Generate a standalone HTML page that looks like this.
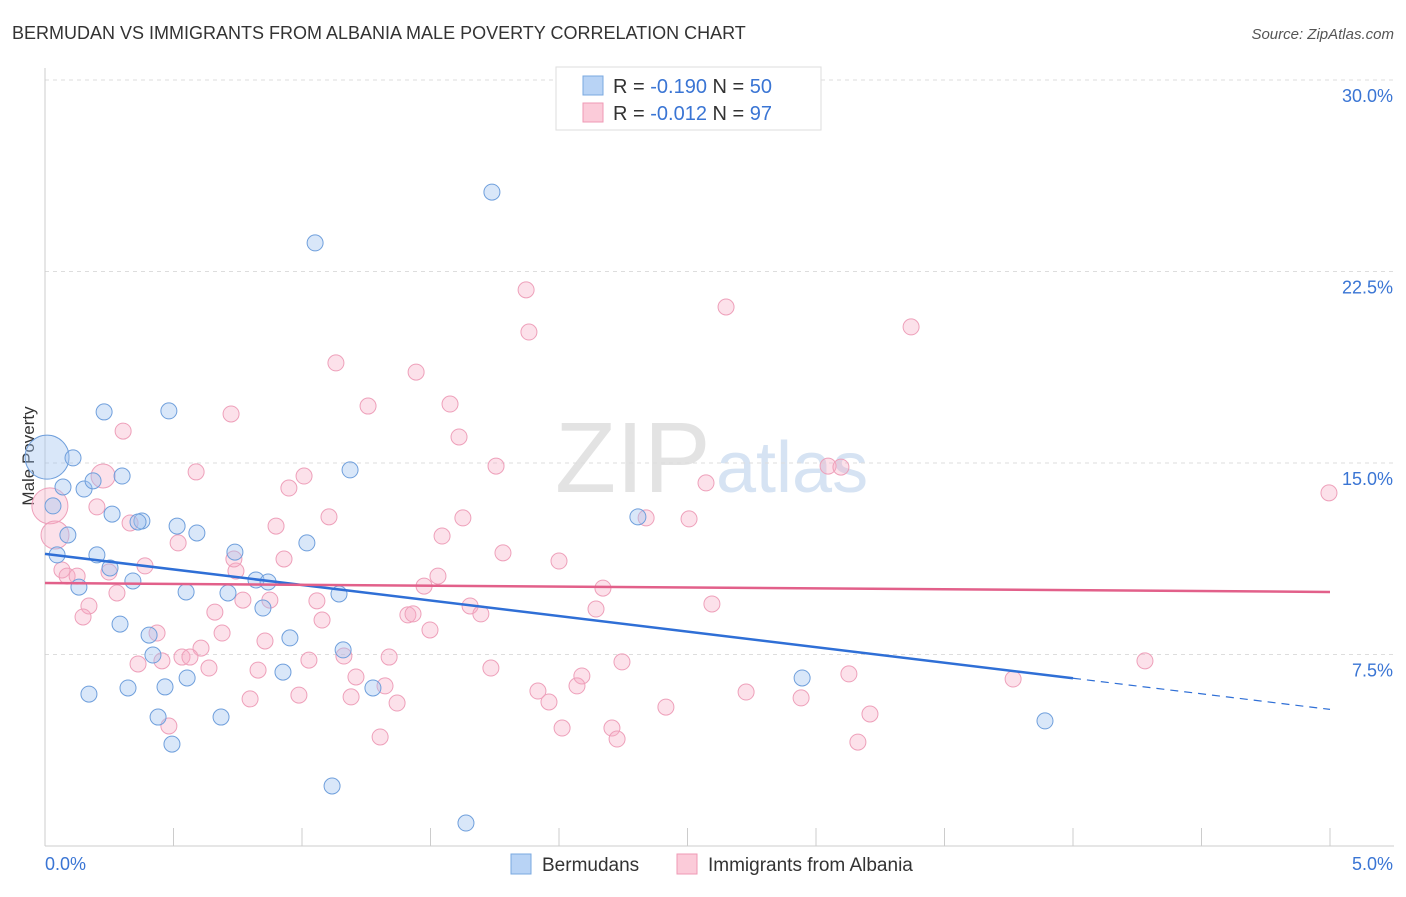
<!DOCTYPE html>
<html><head><meta charset="utf-8"><style>
body{margin:0;background:#fff;font-family:"Liberation Sans",sans-serif;}
svg text{font-family:"Liberation Sans",sans-serif;}
</style></head><body>
<svg id="chart" width="1406" height="892">
<text x="12" y="39" font-size="18" fill="#333">BERMUDAN VS IMMIGRANTS FROM ALBANIA MALE POVERTY CORRELATION CHART</text>
<text x="1394" y="39" font-size="15" fill="#555" font-style="italic" text-anchor="end">Source: ZipAtlas.com</text>
<text x="555" y="492" font-size="100" fill="#e3e3e3" font-family="Liberation Serif">ZIP</text>
<text x="716" y="492" font-size="72" fill="#d6e3f3">atlas</text>
<text transform="translate(34,456) rotate(-90)" font-size="17" fill="#333" text-anchor="middle">Male Poverty</text>
<g id="grid"></g><g id="marks"></g>
<g>
<rect x="556" y="67" width="265" height="63" fill="#fff" stroke="#ddd"/>
<rect x="583" y="76" width="20" height="19" fill="#b8d3f5" stroke="#7aa8e0"/>
<rect x="583" y="103" width="20" height="19" fill="#fbcbd9" stroke="#ef9ab5"/>
<text x="613" y="93" font-size="20" fill="#333">R = <tspan fill="#3a75d4">-0.190</tspan>   N = <tspan fill="#3a75d4">50</tspan></text>
<text x="613" y="120" font-size="20" fill="#333">R = <tspan fill="#3a75d4">-0.012</tspan>   N = <tspan fill="#3a75d4"> 97</tspan></text>
</g>
<g>
<rect x="511" y="854" width="20" height="20" fill="#b8d3f5" stroke="#7aa8e0"/>
<text x="542" y="871" font-size="19" fill="#333">Bermudans</text>
<rect x="677" y="854" width="20" height="20" fill="#fbcbd9" stroke="#ef9ab5"/>
<text x="708" y="871" font-size="19" fill="#333">Immigrants from Albania</text>
</g>
</svg>
<script>
const yTicks=[7.5,15,22.5,30];
const yTickLabels=["7.5%","15.0%","22.5%","30.0%"];
const xTickLabels=["0.0%","5.0%"];
const bluePx=[[47,457,22],[73,458],[63,487],[84,489],[93,481],[104,412],[169,411],[122,476],[53,506],[112,514],[142,521],[138,522],[177,526],[197,533],[68,535],[57,555],[97,555],[235,552],[307,543],[350,470],[492,192],[315,243],[110,568],[79,587],[133,581],[186,592],[228,593],[256,580],[268,582],[263,608],[339,594],[120,624],[149,635],[290,638],[153,655],[343,650],[187,678],[283,672],[89,694],[128,688],[165,687],[373,688],[158,717],[221,717],[172,744],[332,786],[466,823],[638,517],[802,678],[1045,721]];
const pinkPx=[[50,506,18],[55,535,14],[103,476,12],[123,431],[97,507],[130,523],[178,543],[196,472],[231,414],[336,363],[416,372],[368,406],[450,404],[526,290],[529,332],[726,307],[911,327],[459,437],[496,466],[304,476],[289,488],[276,526],[329,517],[463,518],[442,536],[503,553],[559,561],[284,559],[236,571],[145,566],[62,570],[67,576],[77,576],[109,572],[117,593],[89,606],[83,617],[215,612],[243,600],[270,600],[317,601],[322,620],[408,615],[413,614],[430,630],[424,586],[438,576],[470,606],[481,614],[596,609],[603,588],[712,604],[157,633],[201,648],[222,633],[265,641],[309,660],[344,656],[356,677],[385,686],[389,657],[182,657],[190,657],[138,664],[162,661],[209,668],[258,670],[491,668],[582,676],[577,686],[622,662],[538,691],[549,702],[666,707],[746,692],[801,698],[299,695],[250,699],[351,697],[397,703],[169,726],[562,728],[612,728],[617,739],[380,737],[858,742],[870,714],[849,674],[1013,679],[1145,661],[828,466],[841,467],[706,483],[646,518],[689,519],[1329,493],[234,559]];
// data values (x in %, y in %)
const blueX=bluePx.map(p=>+((p[0]-45)/1285*5).toFixed(3)), blueY=bluePx.map(p=>+((846-p[1])/191.5*7.5).toFixed(2));
const pinkX=pinkPx.map(p=>+((p[0]-45)/1285*5).toFixed(3)), pinkY=pinkPx.map(p=>+((846-p[1])/191.5*7.5).toFixed(2));
const blueTrend=[11.44,6.57,5.35], pinkTrend=[10.3,9.95];
const sx=v=>45+v/5*1285, sy=v=>846-v/7.5*191.5;
const NS="http://www.w3.org/2000/svg";
function mk(t,a,p){const e=document.createElementNS(NS,t);for(const k in a)e.setAttribute(k,a[k]);p.appendChild(e);return e;}
const g=document.getElementById('grid'), m=document.getElementById('marks');
yTicks.forEach((v,i)=>{const l=mk('line',{x1:45,x2:1394,y1:sy(v),y2:sy(v),stroke:'#ddd','stroke-dasharray':'4,4'},g);


const t=mk('text',{x:1393,y:sy(v)+22,'font-size':18,fill:'#3a75d4','text-anchor':'end'},g);t.textContent=yTickLabels[i];

});
mk('line',{x1:45,x2:45,y1:68,y2:846,stroke:'#ccc'},g);
mk('line',{x1:45,x2:1394,y1:846,y2:846,stroke:'#ccc'},g);
for(let i=0;i<=10;i++){const l=mk('line',{x1:sx(i*0.5),x2:sx(i*0.5),y1:828,y2:846,stroke:'#ccc'},g);

}
[[0,45,'start'],[1,1393,'end']].forEach(([i,x,a])=>{const t=mk('text',{x:x,y:870,'font-size':18,fill:'#3a75d4','text-anchor':a},g);t.textContent=xTickLabels[i];

});
pinkX.forEach((x,i)=>{const c=mk('circle',{cx:sx(x),cy:sy(pinkY[i]),r:pinkPx[i][2]||8,fill:'rgba(246,170,195,0.35)',stroke:'#eea0ba','stroke-width':1},m);

});
blueX.forEach((x,i)=>{const c=mk('circle',{cx:sx(x),cy:sy(blueY[i]),r:bluePx[i][2]||8,fill:'rgba(160,195,240,0.4)',stroke:'#6f9fdc','stroke-width':1},m);

});
const bl=mk('line',{x1:sx(0),y1:sy(blueTrend[0]),x2:sx(4),y2:sy(blueTrend[1]),stroke:'#2f6fd6','stroke-width':2.5},m);


const bd=mk('line',{x1:sx(4),y1:sy(blueTrend[1]),x2:sx(5),y2:sy(blueTrend[2]),stroke:'#2f6fd6','stroke-width':1.2,'stroke-dasharray':'8,6'},m);


const pl=mk('line',{x1:sx(0),y1:sy(pinkTrend[0]),x2:sx(5),y2:sy(pinkTrend[1]),stroke:'#e2608a','stroke-width':2.5},m);


</script>
</body></html>
